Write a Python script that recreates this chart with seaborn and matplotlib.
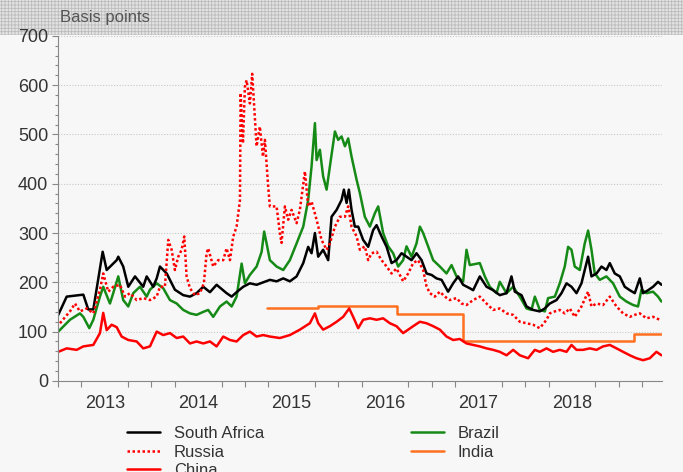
import numpy as np
import pandas as pd
import seaborn as sns
import matplotlib.pyplot as plt
from matplotlib.patches import Rectangle
from matplotlib.lines import Line2D

# decimal years / basis points
sa_x = [2013.003, 2013.093, 2013.271, 2013.324, 2013.378, 2013.478, 2013.521, 2013.628, 2013.645,
        2013.698, 2013.752, 2013.824, 2013.912, 2013.949, 2014.019, 2014.056, 2014.091, 2014.163,
        2014.251, 2014.340, 2014.412, 2014.483, 2014.554, 2014.626, 2014.697, 2014.804, 2014.858,
        2014.911, 2014.982, 2015.053, 2015.125, 2015.267, 2015.339, 2015.410, 2015.481, 2015.553,
        2015.624, 2015.677, 2015.713, 2015.749, 2015.784, 2015.837, 2015.891, 2015.927, 2015.981,
        2016.034, 2016.059, 2016.088, 2016.112, 2016.141, 2016.176, 2016.212, 2016.265, 2016.319,
        2016.372, 2016.409, 2016.462, 2016.516, 2016.569, 2016.622, 2016.676, 2016.729, 2016.783,
        2016.836, 2016.890, 2016.943, 2016.997, 2017.050, 2017.104, 2017.174, 2017.228, 2017.281,
        2017.335, 2017.406, 2017.442, 2017.513, 2017.585, 2017.656, 2017.727, 2017.799, 2017.852,
        2017.888, 2017.959, 2018.013, 2018.083, 2018.155, 2018.209, 2018.262, 2018.334, 2018.387,
        2018.441, 2018.494, 2018.548, 2018.601, 2018.636, 2018.672, 2018.708, 2018.762, 2018.815,
        2018.868, 2018.904, 2018.957, 2019.011, 2019.064, 2019.118, 2019.171, 2019.225, 2019.260,
        2019.314, 2019.367, 2019.420, 2019.457]
sa_y = [134, 171, 175, 145, 145, 262, 225, 245, 252,
        232, 191, 212, 191, 212, 191, 208, 232, 218,
        185, 174, 171, 178, 191, 180, 195, 178, 171,
        180, 191, 198, 195, 205, 202, 208, 202, 212,
        239, 272, 259, 300, 252, 266, 245, 333, 347,
        367, 388, 361, 388, 347, 313, 313, 286, 272,
        306, 316, 293, 272, 239, 245, 259, 252, 245,
        259, 245, 218, 215, 208, 205, 181, 198, 212,
        195, 188, 184, 212, 191, 184, 174, 178, 212,
        181, 174, 151, 144, 141, 147, 157, 164, 178,
        198, 191, 178, 198, 225, 252, 212, 218, 232,
        225, 239, 218, 212, 191, 184, 178, 208, 178,
        184, 191, 201, 195]

brazil_x = [2013.003, 2013.128, 2013.235, 2013.271, 2013.335, 2013.378, 2013.449, 2013.484, 2013.556,
            2013.591, 2013.645, 2013.698, 2013.752, 2013.805, 2013.877, 2013.949, 2013.984, 2014.056,
            2014.126, 2014.198, 2014.270, 2014.340, 2014.412, 2014.483, 2014.554, 2014.607, 2014.661,
            2014.733, 2014.804, 2014.858, 2014.911, 2014.965, 2015.000, 2015.053, 2015.125, 2015.179,
            2015.206, 2015.232, 2015.267, 2015.339, 2015.410, 2015.481, 2015.553, 2015.624, 2015.677,
            2015.713, 2015.749, 2015.767, 2015.802, 2015.837, 2015.874, 2015.909, 2015.963, 2015.998,
            2016.034, 2016.070, 2016.105, 2016.141, 2016.195, 2016.230, 2016.283, 2016.337, 2016.390,
            2016.426, 2016.479, 2016.533, 2016.586, 2016.640, 2016.693, 2016.729, 2016.783, 2016.836,
            2016.872, 2016.907, 2016.960, 2017.014, 2017.086, 2017.157, 2017.211, 2017.264, 2017.335,
            2017.371, 2017.406, 2017.513, 2017.567, 2017.620, 2017.692, 2017.727, 2017.799, 2017.870,
            2017.941, 2018.013, 2018.066, 2018.102, 2018.155, 2018.209, 2018.244, 2018.316, 2018.369,
            2018.422, 2018.458, 2018.494, 2018.529, 2018.583, 2018.636, 2018.672, 2018.708, 2018.743,
            2018.797, 2018.868, 2018.939, 2019.011, 2019.082, 2019.153, 2019.206, 2019.243, 2019.296,
            2019.367, 2019.420, 2019.457]
brazil_y = [100, 124, 137, 130, 107, 124, 171, 191, 157,
            178, 212, 164, 151, 178, 191, 171, 185, 198,
            188, 164, 157, 144, 137, 134, 140, 144, 130,
            151, 161, 151, 171, 238, 198, 215, 232, 262,
            303, 279, 245, 232, 225, 245, 279, 313, 367,
            435, 523, 448, 469, 415, 388, 435, 506, 489,
            496, 476, 492, 455, 408, 381, 333, 313, 340,
            354, 300, 273, 259, 232, 245, 273, 252, 279,
            313, 300, 273, 245, 232, 218, 235, 212, 202,
            266, 235, 239, 212, 191, 178, 201, 178, 191,
            171, 147, 144, 171, 144, 141, 168, 171, 198,
            232, 272, 266, 232, 225, 279, 305, 266, 218,
            205, 212, 198, 171, 161, 154, 151, 185, 178,
            181, 171, 161]

russia_x = [2013.021, 2013.128, 2013.182, 2013.235, 2013.307, 2013.378, 2013.449, 2013.484, 2013.538,
            2013.591, 2013.663, 2013.717, 2013.770, 2013.842, 2013.912, 2013.984, 2014.056, 2014.091,
            2014.144, 2014.180, 2014.216, 2014.251, 2014.287, 2014.323, 2014.351, 2014.376, 2014.412,
            2014.465, 2014.519, 2014.561, 2014.590, 2014.607, 2014.661, 2014.714, 2014.768, 2014.804,
            2014.840, 2014.875, 2014.911, 2014.947, 2014.954, 2014.979, 2015.000, 2015.018, 2015.053,
            2015.078, 2015.107, 2015.125, 2015.160, 2015.193, 2015.214, 2015.249, 2015.267, 2015.303,
            2015.339, 2015.374, 2015.392, 2015.428, 2015.463, 2015.499, 2015.553, 2015.588, 2015.642,
            2015.677, 2015.713, 2015.767, 2015.820, 2015.874, 2015.909, 2015.963, 2016.016, 2016.070,
            2016.105, 2016.141, 2016.195, 2016.230, 2016.283, 2016.319, 2016.355, 2016.409, 2016.462,
            2016.516, 2016.569, 2016.622, 2016.693, 2016.747, 2016.800, 2016.853, 2016.907, 2016.943,
            2016.979, 2017.032, 2017.086, 2017.139, 2017.193, 2017.264, 2017.318, 2017.371, 2017.442,
            2017.513, 2017.585, 2017.656, 2017.727, 2017.799, 2017.870, 2017.941, 2018.013, 2018.083,
            2018.155, 2018.227, 2018.262, 2018.316, 2018.369, 2018.422, 2018.476, 2018.529, 2018.601,
            2018.672, 2018.708, 2018.762, 2018.832, 2018.904, 2018.976, 2019.046, 2019.118, 2019.171,
            2019.225, 2019.296, 2019.367, 2019.439]
russia_y = [117, 141, 157, 141, 147, 137, 185, 218, 181,
            191, 195, 171, 178, 164, 168, 164, 171, 191,
            191, 286, 266, 225, 252, 266, 293, 212, 188,
            174, 178, 198, 259, 269, 232, 245, 245, 269,
            245, 293, 313, 367, 584, 482, 597, 610, 563,
            623, 530, 476, 516, 455, 489, 394, 354, 354,
            354, 300, 280, 354, 327, 347, 320, 347, 425,
            354, 364, 327, 286, 266, 279, 313, 333, 333,
            354, 313, 293, 266, 273, 245, 259, 262, 245,
            232, 218, 228, 202, 218, 239, 245, 225, 192,
            178, 171, 181, 171, 164, 168, 157, 154, 164,
            171, 157, 144, 147, 137, 134, 120, 117, 114,
            107, 124, 137, 141, 144, 137, 147, 130, 151,
            181, 151, 157, 154, 171, 151, 137, 130, 134,
            137, 127, 130, 124]

india_x = [2015.24, 2015.78, 2016.63, 2017.33, 2019.16, 2019.457]
india_y = [148, 152, 135, 80, 96, 96]

china_x = [2013.003, 2013.093, 2013.200, 2013.271, 2013.378, 2013.449, 2013.484, 2013.521, 2013.574,
           2013.628, 2013.681, 2013.752, 2013.842, 2013.912, 2013.984, 2014.056, 2014.126, 2014.198,
           2014.270, 2014.340, 2014.412, 2014.483, 2014.554, 2014.626, 2014.697, 2014.768, 2014.840,
           2014.911, 2014.982, 2015.053, 2015.125, 2015.196, 2015.267, 2015.374, 2015.481, 2015.588,
           2015.695, 2015.749, 2015.784, 2015.837, 2015.909, 2015.981, 2016.051, 2016.116, 2016.158,
           2016.212, 2016.265, 2016.337, 2016.409, 2016.479, 2016.551, 2016.622, 2016.693, 2016.747,
           2016.800, 2016.872, 2016.943, 2017.014, 2017.086, 2017.157, 2017.228, 2017.299, 2017.371,
           2017.442, 2017.513, 2017.585, 2017.656, 2017.727, 2017.799, 2017.870, 2017.941, 2018.030,
           2018.102, 2018.155, 2018.227, 2018.297, 2018.369, 2018.441, 2018.494, 2018.548, 2018.618,
           2018.690, 2018.762, 2018.832, 2018.904, 2018.976, 2019.046, 2019.118, 2019.189, 2019.260,
           2019.332, 2019.403, 2019.457]
china_y = [59, 66, 63, 70, 73, 97, 138, 103, 114,
           109, 90, 83, 80, 66, 70, 100, 93, 97,
           87, 90, 76, 80, 76, 80, 70, 90, 83,
           80, 93, 100, 90, 93, 90, 87, 93, 104,
           117, 137, 117, 104, 111, 120, 130, 147, 130,
           107, 124, 127, 124, 127, 117, 111, 97, 104,
           111, 120, 117, 111, 104, 90, 83, 85, 76,
           73, 70, 66, 63, 59, 52, 63, 52, 46,
           63, 59, 66, 59, 63, 59, 73, 63, 63,
           66, 63, 70, 73, 66, 59, 52, 46, 42,
           46, 59, 52]

years = [2013, 2014, 2015, 2016, 2017, 2018]

bg = '#f7f7f7'
txt = '#333333'

sns.set_theme(style="white")
plt.rcParams['font.family'] = ['Liberation Sans', 'DejaVu Sans']
plt.rcParams['hatch.linewidth'] = 0.6
plt.rcParams['hatch.color'] = '#bcbcbc'

fig = plt.figure(figsize=(6.83, 4.72), dpi=100, facecolor=bg)
ax = fig.add_axes([0.0849, 0.193, 0.884, 0.731])
ax.set_facecolor(bg)

# hatched header band (behind the axes so the 700 label stays visible)
fig.patches.append(Rectangle((0, 0.926), 1, 0.074, transform=fig.transFigure,
                             facecolor='#e3e3e3', edgecolor='#bcbcbc', hatch='+++++',
                             linewidth=0, zorder=-5))
fig.text(0.088, 0.962, 'Basis points', fontsize=12, color='#555555', va='center', ha='left')

lw = 1.8
sns.lineplot(ax=ax, x=india_x, y=india_y, color='#ff7020', lw=lw, drawstyle='steps-post')
sns.lineplot(ax=ax, x=china_x, y=china_y, color='#ff0000', lw=lw)
sns.lineplot(ax=ax, x=brazil_x, y=brazil_y, color='#168a16', lw=lw)
sns.lineplot(ax=ax, x=sa_x, y=sa_y, color='black', lw=lw)
sns.lineplot(ax=ax, x=russia_x, y=russia_y, color='#ff0000', lw=lw, ls=(0, (1, 1)))

ax.set_xlim(2013, 2019.46)
ax.set_ylim(0, 700)

ax.set_yticks(range(0, 701, 100))
ax.set_yticks(range(0, 701, 20), minor=True)
ax.yaxis.grid(True, which='major', color='#c8c8c8', ls=(0, (1, 1.5)), lw=0.8)

ax.set_xticks([y + 0.5 for y in years], labels=[str(y) for y in years])
ax.set_xticks(np.arange(2013, 2019.5, 0.25), minor=True)
ax.tick_params(axis='x', which='major', length=0, pad=10, labelsize=13, labelcolor=txt)
ax.tick_params(axis='x', which='minor', length=4, color='#888888', width=0.8, bottom=True)
ax.tick_params(axis='y', which='major', length=4, color='#888888', width=0.8, pad=3,
               labelsize=13, labelcolor=txt, left=True)
ax.tick_params(axis='y', which='minor', length=2, color='#888888', width=0.8, left=True)

for s in ['top', 'right']:
    ax.spines[s].set_visible(False)
for s in ['left', 'bottom']:
    ax.spines[s].set_color('#888888')
    ax.spines[s].set_linewidth(0.8)
ax.set_xlabel('')
ax.set_ylabel('')

handles = [
    Line2D([], [], color='black', lw=lw),
    Line2D([], [], color='#ff0000', lw=lw, ls=(0, (1, 1))),
    Line2D([], [], color='#ff0000', lw=lw),
    Line2D([], [], color='#168a16', lw=lw),
    Line2D([], [], color='#ff7020', lw=lw),
]
labels = ['South Africa', 'Russia', 'China', 'Brazil', 'India']
fig.legend(handles, labels, ncol=2, loc='upper left', bbox_to_anchor=(0.186, 0.097),
           frameon=False, fontsize=12, labelcolor=txt, handlelength=2.0, handletextpad=0.8,
           columnspacing=8.8, labelspacing=0.2, borderpad=0, borderaxespad=0)

fig.savefig('out.png', dpi=100, facecolor=bg)
